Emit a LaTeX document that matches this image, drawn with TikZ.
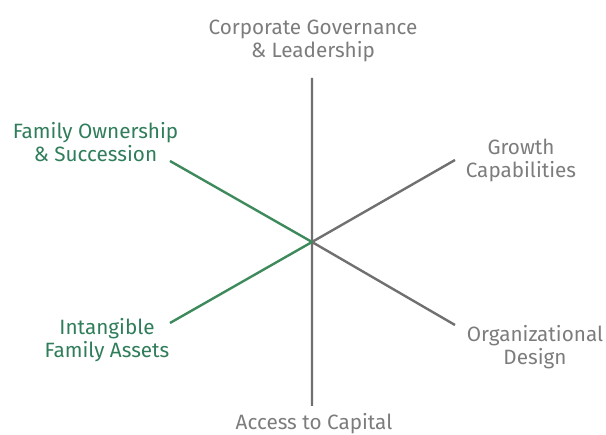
\documentclass[tikz,border=0pt]{standalone}
\usepackage{fontspec}
\setmainfont{Fira Sans}
\usepackage{tikz}
\definecolor{axisgray}{HTML}{707070}
\definecolor{labelgray}{HTML}{7C7C7C}
\definecolor{famgreen}{HTML}{3E8A5C}
\definecolor{labelgreen}{HTML}{2F7D5A}
\tikzstyle{every node}=[inner sep=0pt,align=center,font=\fontsize{20.7}{23}\selectfont]
\tikzstyle{greyaxis}=[draw=axisgray,line width=2.4pt]
\tikzstyle{greenaxis}=[draw=famgreen,line width=2.4pt]

\begin{document}
\begin{tikzpicture}[x=1pt,y=-1pt]
\useasboundingbox (0,0) rectangle (606,435);
\coordinate (c) at (312,242);
\coordinate (top) at (312,78);
\coordinate (bot) at (312,406);
\coordinate (ur) at (455,160);
\coordinate (lr) at (455,325);
\coordinate (ul) at (170,161);
\coordinate (ll) at (170,323);
\draw [greyaxis] (top) -- (bot)
	(c) -- (ur)
	(c) -- (lr);
\draw [greenaxis] (c) -- (ul)
	(c) -- (ll);
\node (gov) [text=labelgray] at (313,41) {Corporate Governance\\\& Leadership};
\node (grow) [text=labelgray] at (521,160) {Growth\\Capabilities};
\node (org) [text=labelgray] at (535,347) {Organizational\\Design};
\node (cap) [text=labelgray] at (314,424) {Access to Capital};
\node (own) [text=labelgreen] at (95.5,142) {Family Ownership\\\& Succession};
\node (asset) [text=labelgreen] at (107,340) {Intangible\\Family Assets};
\end{tikzpicture}
\end{document}
